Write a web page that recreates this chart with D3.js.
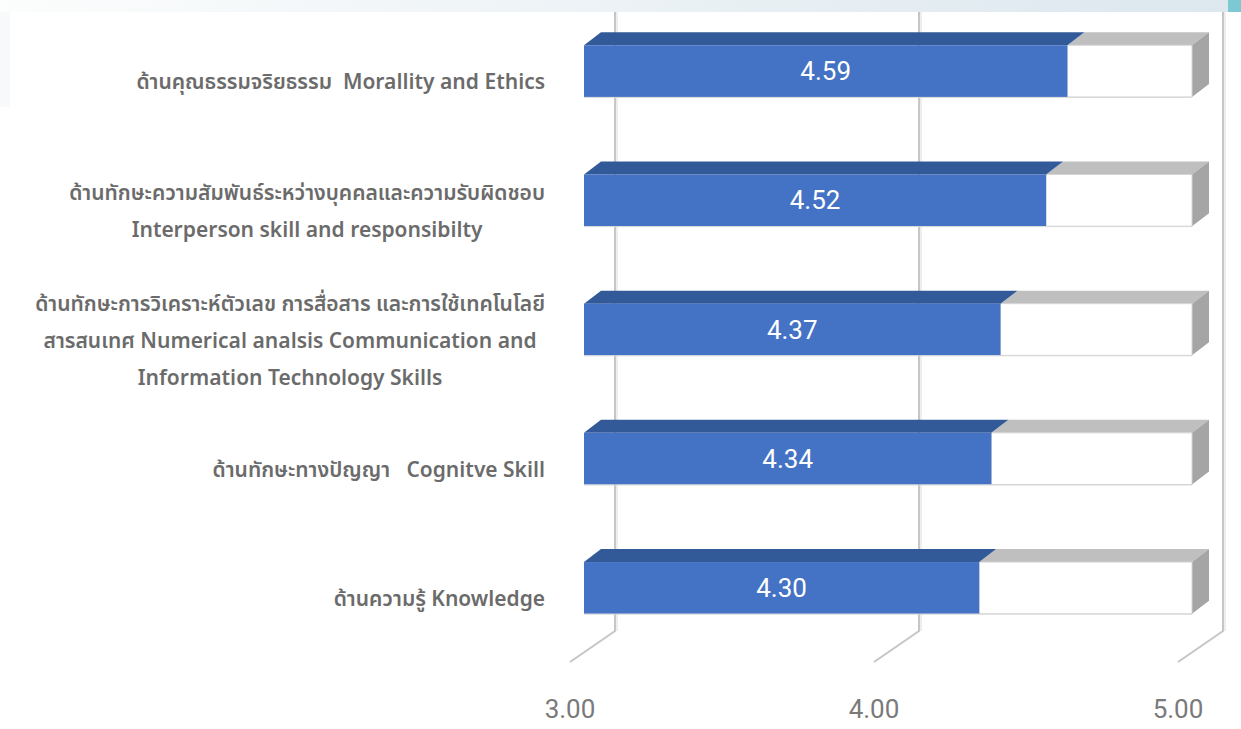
<!DOCTYPE html>
<html>
<head>
<meta charset="utf-8">
<script src="https://cdn.jsdelivr.net/npm/d3@7"></script>
<style>
  body { margin: 0; background: #fff; }
  svg { display: block; }
  .cat { font-family: "Noto Sans Thai", "Noto Sans", "Open Sans", sans-serif; font-size: 21px; font-weight: 600; fill: #6b6b6b; white-space: pre; }
  .num { font-family: Roboto, "Noto Sans", sans-serif; font-size: 26px; }
</style>
</head>
<body>
<div id="chart"></div>
<script>
const categories = [
  ["ด้านคุณธรรมจริยธรรม  Morallity and Ethics"],
  ["ด้านทักษะความสัมพันธ์ระหว่างบุคคลและความรับผิดชอบ", "Interperson skill and responsibilty"],
  ["ด้านทักษะการวิเคราะห์ตัวเลข การสื่อสาร และการใช้เทคโนโลยี", "สารสนเทศ Numerical analsis Communication and", "Information Technology Skills"],
  ["ด้านทักษะทางปัญญา   Cognitve Skill"],
  ["ด้านความรู้ Knowledge"]
];
const values = [4.59, 4.52, 4.37, 4.34, 4.30];
const ticks = [3, 4, 5];

const width = 1241, height = 729;
const svg = d3.select("#chart").append("svg")
  .attr("width", width)
  .attr("height", height);

// header band
const defs = svg.append("defs");
const grad = defs.append("linearGradient").attr("id", "band");
grad.append("stop").attr("offset", "0%").attr("stop-color", "#fcfdfd");
grad.append("stop").attr("offset", "100%").attr("stop-color", "#dce7ee");
svg.append("rect").attr("x", 0).attr("y", 0).attr("width", 1228).attr("height", 12).attr("fill", "url(#band)");
svg.append("rect").attr("x", 1228).attr("y", 0).attr("width", 13).attr("height", 12).attr("fill", "#7cc9d4");
svg.append("rect").attr("x", 0).attr("y", 12).attr("width", 10).attr("height", 95).attr("fill", "#f8f9fa");

const x = d3.scaleLinear().domain([3, 5]).range([584, 1192]);
const y = d3.scaleBand().domain(d3.range(values.length))
  .range([6.5, 652.5]).paddingInner(0.6).paddingOuter(0.3);

const depth = { dx: 17, dy: -13 };   // bar depth
const wallDx = 31, floorY = 631;     // back wall
const floorFront = { dx: -45, dy: 31 };

// gridlines on back wall + floor
const grid = svg.append("g");
ticks.forEach(t => {
  const bx = x(t) + wallDx;
  grid.append("path")
    .attr("d", `M${bx},12 L${bx},${floorY} L${bx + floorFront.dx},${floorY + floorFront.dy}`)
    .attr("fill", "none").attr("stroke", "#c6c6c6").attr("stroke-width", 2);
  grid.append("path")
    .attr("d", `M${bx + 2},12 L${bx + 2},${floorY}`)
    .attr("fill", "none").attr("stroke", "#e8e8e8").attr("stroke-width", 1.5);
});

// bars
const bars = svg.append("g").selectAll("g").data(values).join("g");
const x0 = x(3), xMax = x(5);

bars.each(function (v, i) {
  const g = d3.select(this);
  const top = y(i), bw = y.bandwidth(), xv = x(v);
  // gray remainder top
  g.append("path")
    .attr("d", `M${xv},${top} L${xv + depth.dx},${top + depth.dy} L${xMax + depth.dx},${top + depth.dy} L${xMax},${top} Z`)
    .attr("fill", "#bfbfbf");
  // right side
  g.append("path")
    .attr("d", `M${xMax},${top} L${xMax + depth.dx},${top + depth.dy} L${xMax + depth.dx},${top + bw + depth.dy} L${xMax},${top + bw} Z`)
    .attr("fill", "#a5a5a5");
  // gray remainder front
  g.append("rect")
    .attr("x", xv).attr("y", top).attr("width", xMax - xv).attr("height", bw)
    .attr("fill", "#fff").attr("stroke", "#d4d4d4").attr("stroke-width", 1);
  // blue top
  g.append("path")
    .attr("d", `M${x0},${top} L${x0 + depth.dx},${top + depth.dy} L${xv + depth.dx},${top + depth.dy} L${xv},${top} Z`)
    .attr("fill", "#335a98");
  // blue front
  g.append("rect")
    .attr("x", x0).attr("y", top).attr("width", xv - x0).attr("height", bw)
    .attr("fill", "#4472c4");
  g.append("line")
    .attr("x1", x0).attr("x2", xMax).attr("y1", top + bw + 0.5).attr("y2", top + bw + 0.5)
    .attr("stroke", "#d9d9d9");
  g.append("text")
    .attr("class", "num")
    .attr("x", (x0 + xv) / 2)
    .attr("y", top + bw / 2 + 9)
    .attr("text-anchor", "middle")
    .attr("fill", "#fff")
    .text(d3.format(".2f")(v));
});

// axis labels at front floor
svg.append("g").selectAll("text").data(ticks).join("text")
  .attr("class", "num")
  .attr("x", d => x(d) + wallDx + floorFront.dx)
  .attr("y", 718)
  .attr("text-anchor", "middle")
  .attr("fill", "#7a7a7a")
  .text(d => d3.format(".2f")(d));

// category labels, centred block, right edge at 545
const lineH = 37;
categories.forEach((lines, i) => {
  const cy = y(i) + y.bandwidth() / 2 + 18;
  const g = svg.append("g");
  const texts = lines.map((s, k) => g.append("text")
    .attr("class", "cat")
    .attr("text-anchor", "middle")
    .attr("y", cy + (k - (lines.length - 1) / 2) * lineH)
    .text(s));
  const maxW = d3.max(texts, t => t.node().getComputedTextLength());
  texts.forEach(t => t.attr("x", 545 - maxW / 2));
});
</script>
</body>
</html>
